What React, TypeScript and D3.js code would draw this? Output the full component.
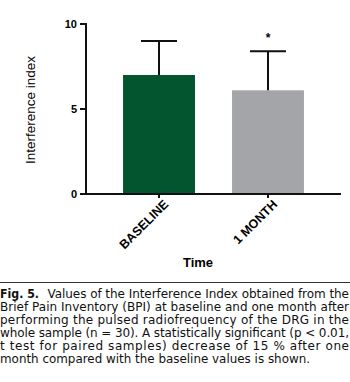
import React from "react";
import * as d3 from "d3";

const categories = ["BASELINE", "1 MONTH"];
const means = [7.0, 6.1];
const errUpper = [9.0, 8.4];
const significant = [false, true];
const yTicks = [0, 5, 10];
const barColors = ["#03552f", "#a4a5a9"];
const captionLines = [
  "Values of the Interference Index obtained from the",
  "Brief Pain Inventory (BPI) at baseline and one month after",
  "performing the pulsed radiofrequency of the DRG in the",
  "whole sample (n = 30). A statistically significant (p < 0.01,",
  "t test for paired samples) decrease of 15 % after one",
  "month compared with the baseline values is shown.",
];

export default function App() {
  const W = 350, H = 382;
  const y = d3.scaleLinear().domain([0, 10]).range([194, 24]);
  const x = d3.scaleBand<string>().domain(categories).range([86, 341]).paddingInner(0.34).paddingOuter(0.34);
  const bw = x.bandwidth();
  const font = "Arial, 'Liberation Sans', sans-serif";
  return (
    <svg width={W} height={H} style={{ position: "absolute", left: 0, top: 0, background: "#fff" }} fontFamily={font}>
      {/* bars */}
      {categories.map((c, i) => (
        <rect key={c} x={x(c)!} y={y(means[i])} width={bw} height={y(0) - y(means[i])} fill={barColors[i]} />
      ))}
      {/* error bars */}
      {categories.map((c, i) => {
        const cx = x(c)! + bw / 2;
        return (
          <g key={c} stroke="#111" strokeWidth={2}>
            <line x1={cx} x2={cx} y1={y(means[i])} y2={y(errUpper[i])} />
            <line x1={cx - 18} x2={cx + 18} y1={y(errUpper[i])} y2={y(errUpper[i])} />
          </g>
        );
      })}
      {categories.map((c, i) =>
        significant[i] ? (
          <text key={c} x={x(c)! + bw / 2} y={y(errUpper[i]) - 9} textAnchor="middle" fontSize={12} fontWeight="bold">*</text>
        ) : null
      )}
      {/* y axis */}
      <line x1={86} x2={86} y1={y(0)} y2={y(10) - 1} stroke="#111" strokeWidth={2} />
      {yTicks.map((t) => (
        <g key={t}>
          <line x1={80} x2={86} y1={y(t)} y2={y(t)} stroke="#111" strokeWidth={2} />
          <text x={77} y={y(t)} dy="0.35em" textAnchor="end" fontSize={11} fontWeight="bold">{t}</text>
        </g>
      ))}
      {/* x axis */}
      <line x1={85} x2={341} y1={y(0)} y2={y(0)} stroke="#111" strokeWidth={2} />
      {categories.map((c) => {
        const cx = x(c)! + bw / 2;
        return (
          <g key={c}>
            <line x1={cx} x2={cx} y1={y(0)} y2={y(0) + 4} stroke="#111" strokeWidth={2} />
            <text transform={`translate(${cx + 7},${y(0) + 8}) rotate(-45)`} textAnchor="end" dy="0.35em" fontSize={12.5} fontWeight="bold">{c}</text>
          </g>
        );
      })}
      <text x={198} y={267} textAnchor="middle" fontSize={13} fontWeight="bold">Time</text>
      <text transform={`translate(35,110) rotate(-90)`} textAnchor="middle" fontSize={13.5}>Interference index</text>
      {/* caption */}
      <line x1={0} x2={350} y1={282.5} y2={282.5} stroke="#333" strokeWidth={1} />
      <g fontSize={12} fill="#111" fontFamily="'DejaVu Sans', sans-serif">
        {captionLines.map((l, i) => {
          const by = 298 + i * 12.9;
          if (i === 0) {
            return (
              <text key={i} y={by}>
                <tspan x={0} fontWeight="bold" textLength={39} lengthAdjust="spacingAndGlyphs">Fig. 5.</tspan>
                <tspan x={47.5} textLength={301.5} lengthAdjust="spacing">{l}</tspan>
              </text>
            );
          }
          const last = i === captionLines.length - 1;
          return (
            <text key={i} x={0} y={by} textLength={last ? 310 : 349} lengthAdjust={last ? "spacingAndGlyphs" : "spacing"}>{l}</text>
          );
        })}
      </g>
    </svg>
  );
}
